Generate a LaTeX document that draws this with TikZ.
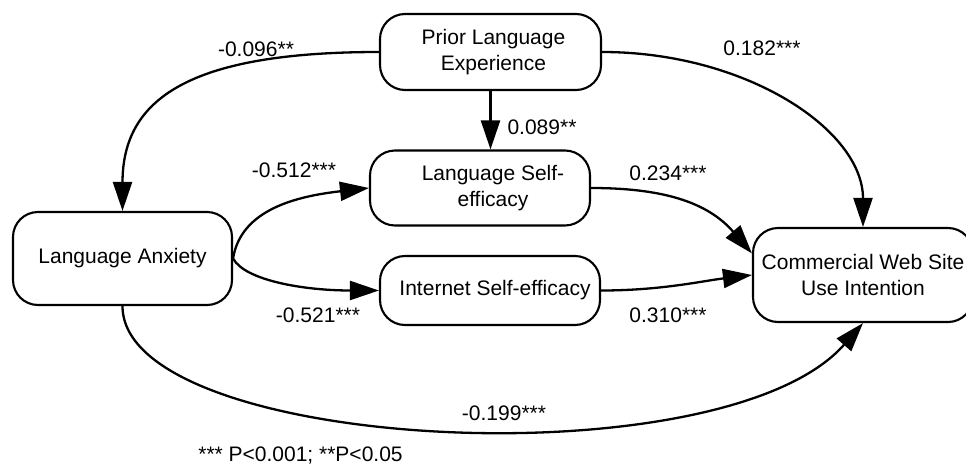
\documentclass[tikz,border=0pt]{standalone}
\usepackage{fontspec}
\setmainfont{Liberation Sans}
\usetikzlibrary{arrows.meta}
\newcommand{\fsz}{\fontsize{21}{26}\selectfont}
\begin{document}
\begin{tikzpicture}[x=1pt,y=-1pt,
  box/.style={draw, line width=2.1pt, rounded corners=25pt, inner sep=0pt, align=center, font=\fsz},
  lbl/.style={inner sep=0pt, font=\fsz},
  arr/.style={line width=2.3pt, -{Triangle[length=29pt,width=19pt]}}]
\useasboundingbox (0,0) rectangle (966,466);
\node[box, minimum width=221pt, minimum height=76pt] (P) at (490.5,52) {\hspace*{6pt}Prior Language\\\hspace*{6pt}Experience};
\node[box, minimum width=220pt, minimum height=75pt] (L) at (480,188) {\hspace*{26pt}Language Self-\\\hspace*{26pt}efficacy};
\node[box, minimum width=219pt, minimum height=93pt] (A) at (122.5,258.5) {Language Anxiety};
\node[box, minimum width=220pt, minimum height=69pt] (I) at (490,290.5) {\hspace*{10pt}Internet Self-efficacy};
\node[box, minimum width=220pt, minimum height=94pt] (C) at (863,275) {Commercial Web Site\\Use Intention};

\draw[arr] (P.west) .. controls +(-190,0) and +(0,-112) .. (A.north);
\draw[arr] (P.east) .. controls +(144,0) and +(0,-97) .. (C.north);
\draw[arr] (P.south) -- (P.south |- L.north);
\draw[arr] (A.east) .. controls +(8,-50) and +(-70,8) .. (L.west);
\draw[arr] (A.east) .. controls +(12,22) and +(-75,0) .. (I.west);
\draw[arr] (L.east) .. controls +(70,0) and +(-45,-52) .. (C.169);
\draw[arr] (I.east) .. controls +(60,0) and +(-50,6) .. (C.west);
\draw[arr] (A.south) .. controls +(0,145) and +(-140,160) .. (C.south);

\node[lbl] (l1) at (256,49) {-0.096**};
\node[lbl] (l2) at (762,48) {0.182***};
\node[lbl] (l3) at (542,127) {0.089**};
\node[lbl] (l4) at (294,170) {-0.512***};
\node[lbl] (l5) at (668,173) {0.234***};
\node[lbl] (l6) at (318,315) {-0.521***};
\node[lbl] (l7) at (668,315) {0.310***};
\node[lbl] (l8) at (504,413) {-0.199***};
\node[lbl] (foot) at (300.5,456) {*** P<0.001; **P<0.05};
\end{tikzpicture}
\end{document}
